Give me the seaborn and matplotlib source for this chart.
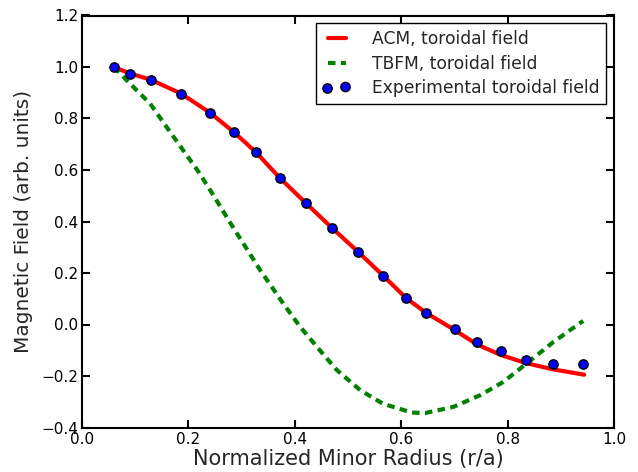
import matplotlib
matplotlib.use("Agg")
import matplotlib.pyplot as plt
import seaborn as sns
import numpy as np

# Experimental toroidal field
exp_x = [0.060, 0.090, 0.130, 0.186, 0.241, 0.286, 0.327, 0.372, 0.421, 0.470,
         0.519, 0.566, 0.609, 0.647, 0.701, 0.742, 0.788, 0.835, 0.885, 0.942]
exp_y = [1.000, 0.972, 0.948, 0.897, 0.822, 0.746, 0.669, 0.569, 0.471, 0.375,
         0.282, 0.190, 0.103, 0.043, -0.018, -0.069, -0.104, -0.139, -0.155, -0.155]

# ACM model curve
acm_x = [0.060, 0.090, 0.130, 0.186, 0.241, 0.286, 0.327, 0.372, 0.421, 0.470,
         0.519, 0.566, 0.609, 0.647, 0.701, 0.742, 0.788, 0.835, 0.885, 0.944]
acm_y = [1.000, 0.975, 0.950, 0.897, 0.822, 0.746, 0.669, 0.569, 0.471, 0.375,
         0.282, 0.190, 0.103, 0.045, -0.022, -0.077, -0.119, -0.150, -0.174, -0.195]

# TBFM model curve
tbfm_x = [0.060, 0.090, 0.128, 0.159, 0.190, 0.219, 0.247, 0.278, 0.335, 0.378,
          0.410, 0.447, 0.479, 0.523, 0.566, 0.620, 0.645, 0.698, 0.748, 0.792,
          0.836, 0.886, 0.942]
tbfm_y = [1.000, 0.936, 0.858, 0.767, 0.677, 0.593, 0.502, 0.397, 0.211, 0.082,
          -0.009, -0.100, -0.177, -0.255, -0.308, -0.342, -0.344, -0.320, -0.275, -0.223,
          -0.151, -0.068, 0.014]

labels = ["ACM, toroidal field", "TBFM, toroidal field", "Experimental toroidal field"]
xtick_labels = ["0.0", "0.2", "0.4", "0.6", "0.8", "1.0"]
ytick_labels = ["\u22120.4", "\u22120.2", "0.0", "0.2", "0.4", "0.6", "0.8", "1.0", "1.2"]

sns.set_style("ticks")
plt.rcParams['font.family'] = ['DejaVu Sans']

fig = plt.figure(figsize=(6.38, 4.72), dpi=100)
ax = fig.add_axes([82/638, 1-427.5/472, (614-82)/638, (427.5-15.5)/472])

sns.lineplot(x=acm_x, y=acm_y, ax=ax, color="red", lw=3, sort=False,
             estimator=None, label=labels[0])
sns.lineplot(x=tbfm_x, y=tbfm_y, ax=ax, color="green", lw=3, sort=False,
             estimator=None, label=labels[1])
ax.lines[-1].set_dashes([1.8, 1.3])
sns.scatterplot(x=exp_x, y=exp_y, ax=ax, color="blue", edgecolor="black",
                linewidth=1, s=45, label=labels[2], zorder=5)

ax.set_xlim(0, 1.0)
ax.set_ylim(-0.4, 1.2)
ax.set_xticks(np.arange(0, 1.01, 0.2))
ax.set_yticks(np.arange(-0.4, 1.21, 0.2))
ax.set_xticklabels(xtick_labels)
ax.set_yticklabels(ytick_labels)
ax.tick_params(direction="in", length=6, width=1.5, top=True, right=True,
               labelsize=11, colors="black")
ax.tick_params(axis="x", pad=3)
ax.tick_params(axis="y", pad=2.5)
for sp in ax.spines.values():
    sp.set_visible(True)
    sp.set_linewidth(1.5)
    sp.set_color("black")

ax.set_xlabel("Normalized Minor Radius (r/a)", fontsize=15, labelpad=2)
ax.set_ylabel("Magnetic Field (arb. units)", fontsize=14.5, labelpad=6)

leg = ax.legend(loc="upper right", fontsize=12.3, scatterpoints=2, numpoints=2,
                frameon=True, fancybox=False, framealpha=1, edgecolor="black",
                borderaxespad=0.45, handlelength=1.65, handletextpad=1.25,
                labelspacing=0.38, borderpad=0.4)
leg.get_frame().set_linewidth(1.0)
for h in leg.legend_handles:
    if hasattr(h, "set_linewidth") and not hasattr(h, "get_offsets"):
        h.set_linewidth(3)

fig.savefig("out.png", dpi=100)
